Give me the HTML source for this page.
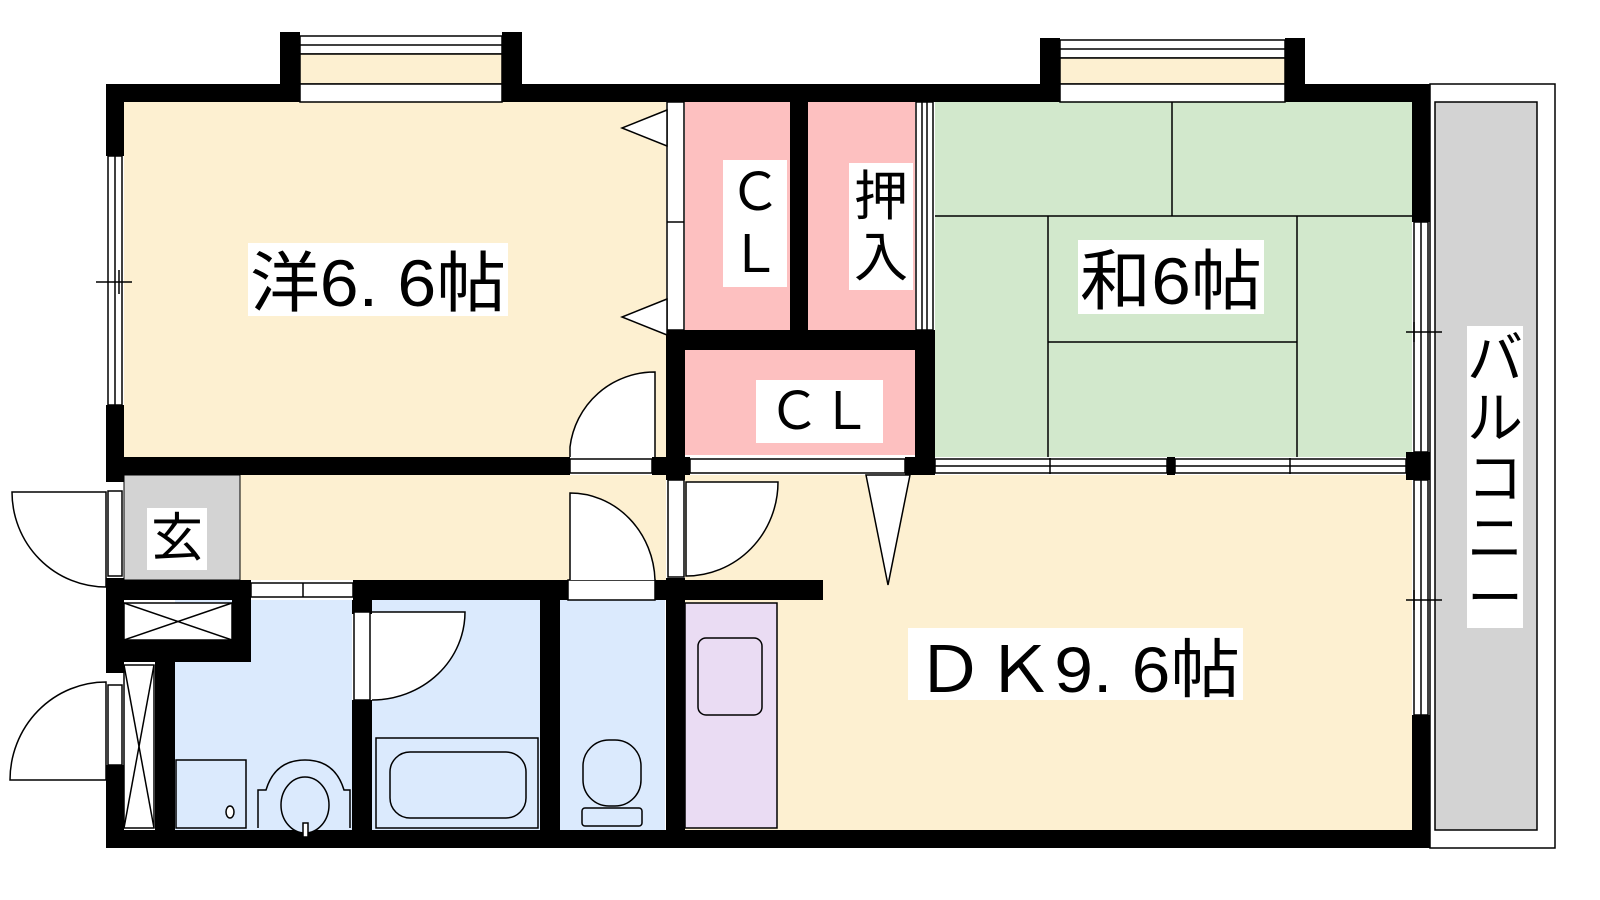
<!DOCTYPE html>
<html><head><meta charset="utf-8"><style>html,body{margin:0;padding:0;background:#fff}svg{display:block}text{font-family:"Liberation Sans","Noto Sans CJK JP",sans-serif;fill:#000}</style></head><body>
<svg width="1600" height="900" viewBox="0 0 1600 900" xmlns="http://www.w3.org/2000/svg">
<rect x="1430" y="84" width="125" height="764" fill="#fff" stroke="#000" stroke-width="1.5"/>
<rect x="1435" y="102" width="102" height="728" fill="#d3d3d3" stroke="#000" stroke-width="1.5"/>
<rect x="124" y="102" width="542" height="355" fill="#fdf0d1"/>
<rect x="240" y="475" width="426" height="105" fill="#fdf0d1"/>
<rect x="124" y="475" width="116" height="105" fill="#d3d3d3" stroke="#000" stroke-width="1"/>
<rect x="685" y="475" width="727" height="355" fill="#fdf0d1"/>
<rect x="685" y="102" width="105" height="228" fill="#fdc0c0"/>
<rect x="808" y="102" width="107" height="228" fill="#fdc0c0"/>
<rect x="685" y="350" width="230" height="105" fill="#fdc0c0"/>
<rect x="935" y="102" width="477" height="355" fill="#d2e8cc"/>
<rect x="175" y="600" width="177" height="230" fill="#dbeafd"/>
<rect x="372" y="600" width="168" height="230" fill="#dbeafd"/>
<rect x="560" y="600" width="105" height="230" fill="#dbeafd"/>
<rect x="685" y="603" width="92" height="225" fill="#eadcf3" stroke="#000" stroke-width="1.5"/>
<g stroke="#000" stroke-width="1.5" fill="none">
<line x1="935" y1="216" x2="1412" y2="216"/>
<line x1="1172" y1="102" x2="1172" y2="216"/>
<line x1="1048" y1="216" x2="1048" y2="457"/>
<line x1="1297" y1="216" x2="1297" y2="457"/>
<line x1="1048" y1="342" x2="1297" y2="342"/>
</g>
<g fill="#000">
<rect x="106" y="84" width="1324" height="18"/>
<rect x="106" y="830" width="1324" height="18"/>
<rect x="106" y="84" width="18" height="72"/>
<rect x="106" y="405" width="18" height="77"/>
<rect x="106" y="578" width="18" height="95"/>
<rect x="106" y="765" width="18" height="83"/>
<rect x="1412" y="84" width="18" height="138"/>
<rect x="1406" y="452" width="24" height="28"/>
<rect x="1412" y="715" width="18" height="133"/>
<rect x="280" y="32" width="20" height="70"/><rect x="502" y="32" width="20" height="70"/>
<rect x="1040" y="38" width="20" height="64"/><rect x="1285" y="38" width="20" height="64"/>
<rect x="106" y="457" width="464" height="18"/>
<rect x="652" y="457" width="38" height="18"/>
<rect x="666" y="330" width="19" height="150"/>
<rect x="666" y="330" width="269" height="20"/>
<rect x="915" y="330" width="20" height="145"/>
<rect x="905" y="457" width="30" height="18"/>
<rect x="1167" y="457" width="8" height="18"/>
<rect x="790" y="102" width="18" height="228"/>
<rect x="106" y="580" width="145" height="20"/>
<rect x="353" y="580" width="217" height="20"/>
<rect x="655" y="580" width="168" height="20"/>
<rect x="666" y="578" width="19" height="270"/>
<rect x="106" y="640" width="145" height="22"/>
<rect x="232" y="580" width="19" height="82"/>
<rect x="155" y="640" width="20" height="208"/>
<rect x="352" y="600" width="20" height="14"/>
<rect x="352" y="700" width="20" height="148"/>
<rect x="540" y="600" width="20" height="248"/>
</g>
<g stroke="#000" stroke-width="1.5" fill="#fff">
<rect x="300" y="36" width="202" height="18"/><line x1="300" y1="45" x2="502" y2="45"/>
<rect x="300" y="54" width="202" height="30" fill="#fdf0d1"/>
<rect x="300" y="84" width="202" height="18"/>
<rect x="1060" y="40" width="225" height="18"/><line x1="1060" y1="49" x2="1285" y2="49"/>
<rect x="1060" y="58" width="225" height="26" fill="#fdf0d1"/>
<rect x="1060" y="84" width="225" height="18"/>
<rect x="108" y="156" width="14" height="249"/><line x1="115" y1="156" x2="115" y2="405"/>
<line x1="96" y1="282" x2="132" y2="282"/><line x1="119" y1="270" x2="119" y2="294"/>
<rect x="1414" y="222" width="14" height="230"/><line x1="1421" y1="222" x2="1421" y2="452"/>
<line x1="1406" y1="332" x2="1442" y2="332"/><line x1="1414" y1="322" x2="1414" y2="342"/>
<rect x="1414" y="480" width="14" height="235"/><line x1="1421" y1="480" x2="1421" y2="715"/>
<line x1="1406" y1="600" x2="1442" y2="600"/><line x1="1414" y1="590" x2="1414" y2="610"/>
<rect x="935" y="459" width="232" height="14"/><line x1="935" y1="466" x2="1167" y2="466"/>
<rect x="1175" y="459" width="231" height="14"/><line x1="1175" y1="466" x2="1406" y2="466"/>
<line x1="1050" y1="458" x2="1050" y2="474"/><line x1="1290" y1="458" x2="1290" y2="474"/>
<rect x="690" y="459" width="215" height="14"/>
<rect x="570" y="459" width="82" height="14"/>
<rect x="916" y="102" width="17" height="228"/><line x1="922" y1="102" x2="922" y2="330"/><line x1="927" y1="102" x2="927" y2="330"/>
<rect x="667" y="102" width="17" height="228"/><line x1="667" y1="222" x2="684" y2="222"/>
<polygon points="667,110 622,128 667,146"/><polygon points="667,299 622,317 667,335"/>
<rect x="668" y="480" width="16" height="97"/>
<path d="M686,482 L778,482 A92,94 0 0 1 686,576 Z"/>
<rect x="568" y="580" width="87" height="20"/>
<path d="M570,457 L570,447 A85,85 0 0 1 655,372 L655,457"/>
<path d="M570,580 L570,493 A85,90 0 0 1 655,580"/>
<path d="M866,475 L910,475 L888,585 Z"/>
<rect x="108" y="491" width="14" height="85"/>
<path d="M106,492 L12,492 A94,95 0 0 0 106,587 Z"/>
<rect x="108" y="685" width="14" height="80"/>
<path d="M106,780 L10,780 A96,98 0 0 1 106,682 Z"/>
<rect x="124" y="665" width="30" height="163"/><line x1="124" y1="665" x2="154" y2="828"/><line x1="154" y1="665" x2="124" y2="828"/>
<rect x="124" y="603" width="108" height="37"/><line x1="124" y1="603" x2="232" y2="640"/><line x1="232" y1="603" x2="124" y2="640"/>
<rect x="251" y="583" width="102" height="14"/>
<line x1="303" y1="583" x2="303" y2="597"/>
<rect x="354" y="612" width="16" height="88"/>
<path d="M372,612 L465,612 A93,88 0 0 1 372,700"/>
<rect x="176" y="760" width="70" height="68" fill="#dbeafd"/>
<ellipse cx="230" cy="812" rx="4" ry="6"/>
<path d="M258,828 L258,790 L266,790 Q275,760 305,760 Q335,760 344,790 L350,790 L350,828" fill="#dbeafd"/>
<ellipse cx="305" cy="805" rx="24" ry="28" fill="#dbeafd"/>
<rect x="303" y="823" width="5" height="14"/>
<rect x="376" y="738" width="162" height="90" fill="#dbeafd"/>
<rect x="390" y="752" width="136" height="66" rx="20" fill="#dbeafd"/>
<rect x="583" y="740" width="58" height="66" rx="26" fill="#dbeafd"/>
<rect x="582" y="808" width="60" height="18" rx="3" fill="#dbeafd"/>
<rect x="698" y="638" width="64" height="77" rx="8" fill="#eadcf3"/>
</g>
<rect x="248" y="243" width="260" height="73" fill="#fff"/>
<text x="250" y="306" font-size="66" textLength="256" lengthAdjust="spacingAndGlyphs">洋6. 6帖</text>
<rect x="1078" y="240" width="186" height="74" fill="#fff"/>
<text x="1080" y="304" font-size="66" textLength="182" lengthAdjust="spacingAndGlyphs">和6帖</text>
<rect x="908" y="628" width="335" height="72" fill="#fff"/>
<text x="915" y="692" font-size="64" textLength="325" lengthAdjust="spacingAndGlyphs">ＤＫ9. 6帖</text>
<rect x="723" y="160" width="64" height="127" fill="#fff"/>
<text x="755" y="210" font-size="52" text-anchor="middle">Ｃ</text>
<text x="755" y="272" font-size="52" text-anchor="middle">Ｌ</text>
<rect x="849" y="163" width="64" height="127" fill="#fff"/>
<text x="881" y="215" font-size="54" text-anchor="middle">押</text>
<text x="881" y="276" font-size="54" text-anchor="middle">入</text>
<rect x="756" y="380" width="127" height="63" fill="#fff"/>
<text x="820" y="429" font-size="52" text-anchor="middle">ＣＬ</text>
<rect x="1467" y="326" width="56" height="302" fill="#fff"/>
<text font-size="56" text-anchor="middle"><tspan x="1495" y="378">バ</tspan><tspan x="1495" y="438">ル</tspan><tspan x="1495" y="498">コ</tspan><tspan x="1495" y="558">ニ</tspan><tspan x="1495" y="618">ー</tspan></text>
<rect x="147" y="508" width="60" height="62" fill="#fff"/>
<text x="177" y="556" font-size="52" text-anchor="middle">玄</text>
</svg>
</body></html>
